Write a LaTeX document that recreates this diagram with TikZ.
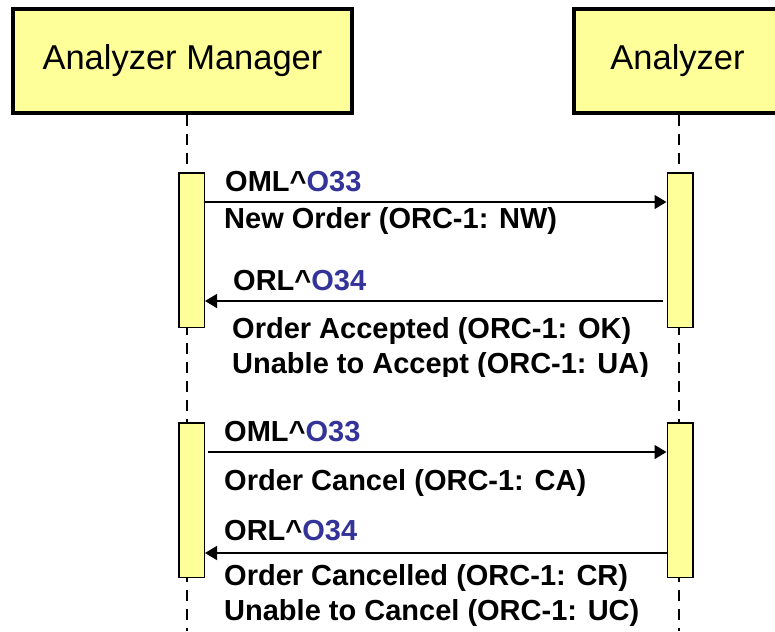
\documentclass[tikz,border=0pt]{standalone}
\usepackage{fontspec}
\setmainfont{Liberation Sans}
\usetikzlibrary{arrows.meta}
\definecolor{noteyellow}{RGB}{255,255,153}
\definecolor{codeblue}{RGB}{51,51,153}
\begin{document}
\begin{tikzpicture}[x=1pt, y=-1pt,
  actor/.style={draw, line width=4pt, fill=noteyellow, inner sep=0pt, minimum height=104pt, font=\fontsize{34.5}{40}\selectfont},
  actbar/.style={draw, line width=1.5pt, fill=noteyellow, inner sep=0pt, minimum width=25.5pt, minimum height=154.5pt},
  lifeline/.style={line width=2pt, dash pattern=on 11pt off 8pt},
  msg/.style={line width=1.5pt, -{Triangle[length=12pt,width=14pt]}},
  msgtext/.style={anchor=base west, inner sep=0pt, font=\fontsize{29}{34}\selectfont\bfseries}]
\useasboundingbox (0,0) rectangle (775,631);
\node[actor, minimum width=339pt] (mgr) at (182.5,61) {Analyzer Manager};
\node[actor, minimum width=207pt] (anl) at (677.5,61) {Analyzer};
\coordinate (mgrEnd) at (187,631);
\coordinate (anlEnd) at (679,631);
\draw[lifeline] (mgrEnd |- mgr.south) -- (mgrEnd);
\draw[lifeline] (anlEnd |- anl.south) -- (anlEnd);

\node[actbar] (mgrA) at (191.5,250) {};
\node[actbar] (anlA) at (680,250) {};
\node[actbar] (mgrB) at (191.5,500) {};
\node[actbar] (anlB) at (680,500) {};

\draw[msg] (mgrA.east |- 0,202) -- (anlA.west |- 0,202);
\draw[msg, shorten <=4pt] (anlA.west |- 0,301) -- (mgrA.east |- 0,301);
\draw[msg, shorten <=3pt] (mgrB.east |- 0,452) -- (anlB.west |- 0,452);
\draw[msg] (anlB.west |- 0,553) -- (mgrB.east |- 0,553);

\node[msgtext] (omlA) at (225,191) {OML\textasciicircum\textcolor{codeblue}{O33}};
\node[msgtext] (newOrd) at (224,228) {New Order (ORC-1: NW)};
\node[msgtext] (orlA) at (233,290) {ORL\textasciicircum\textcolor{codeblue}{O34}};
\node[msgtext] (accOk) at (232,338) {Order Accepted (ORC-1: OK)};
\begin{scope}
\clip (0,0) rectangle (775,376);
\node[msgtext] (accUa) at (232,373) {Unable to Accept (ORC-1: UA)};
\end{scope}
\node[msgtext] (omlB) at (224,441) {OML\textasciicircum\textcolor{codeblue}{O33}};
\node[msgtext] (canCa) at (224,490) {Order Cancel (ORC-1: CA)};
\node[msgtext] (orlB) at (224,540) {ORL\textasciicircum\textcolor{codeblue}{O34}};
\node[msgtext] (canCr) at (224,585) {Order Cancelled (ORC-1: CR)};
\node[msgtext] (canUc) at (224,620) {Unable to Cancel (ORC-1: UC)};
\end{tikzpicture}
\end{document}
